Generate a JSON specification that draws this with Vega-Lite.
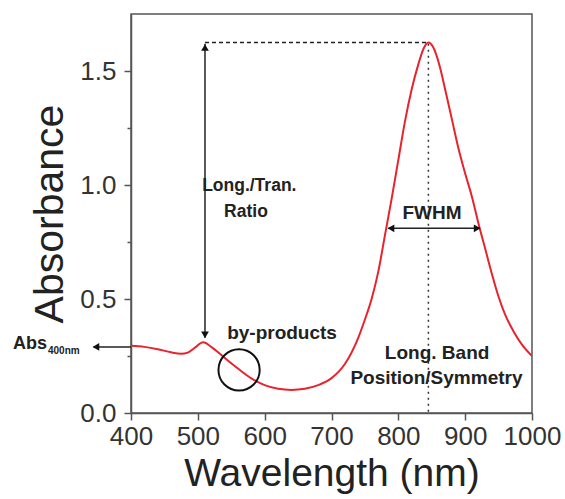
{
  "$schema": "https://vega.github.io/schema/vega-lite/v6.json",
  "width": 401,
  "height": 399,
  "autosize": "none",
  "padding": {"left": 131, "top": 14, "right": 33, "bottom": 86},
  "background": "white",
  "config": {
    "view": {"stroke": "#555", "strokeWidth": 1.5},
    "font": "Liberation Sans"
  },
  "datasets": {
    "curve": [
      {"nm": 400, "abs": 0.295}, {"nm": 420, "abs": 0.29}, {"nm": 440, "abs": 0.28},
      {"nm": 460, "abs": 0.266}, {"nm": 475, "abs": 0.26}, {"nm": 485, "abs": 0.265},
      {"nm": 495, "abs": 0.285}, {"nm": 508, "abs": 0.31}, {"nm": 520, "abs": 0.29},
      {"nm": 540, "abs": 0.242}, {"nm": 560, "abs": 0.195}, {"nm": 580, "abs": 0.152},
      {"nm": 600, "abs": 0.122}, {"nm": 620, "abs": 0.106}, {"nm": 640, "abs": 0.101},
      {"nm": 660, "abs": 0.106}, {"nm": 680, "abs": 0.122}, {"nm": 700, "abs": 0.153},
      {"nm": 720, "abs": 0.215}, {"nm": 740, "abs": 0.33}, {"nm": 750, "abs": 0.41},
      {"nm": 760, "abs": 0.5}, {"nm": 770, "abs": 0.62}, {"nm": 780, "abs": 0.78},
      {"nm": 790, "abs": 0.94}, {"nm": 800, "abs": 1.11}, {"nm": 810, "abs": 1.28},
      {"nm": 820, "abs": 1.42}, {"nm": 830, "abs": 1.53}, {"nm": 838, "abs": 1.6},
      {"nm": 845, "abs": 1.625}, {"nm": 852, "abs": 1.605}, {"nm": 862, "abs": 1.52},
      {"nm": 870, "abs": 1.42}, {"nm": 880, "abs": 1.29}, {"nm": 890, "abs": 1.16},
      {"nm": 900, "abs": 1.05}, {"nm": 910, "abs": 0.95}, {"nm": 920, "abs": 0.83},
      {"nm": 930, "abs": 0.72}, {"nm": 940, "abs": 0.61}, {"nm": 950, "abs": 0.51},
      {"nm": 960, "abs": 0.43}, {"nm": 972, "abs": 0.36}, {"nm": 985, "abs": 0.3},
      {"nm": 1000, "abs": 0.25}
    ],
    "solid": [
      {"x1": 510.7, "x2": 510.7, "y1": 1.62, "y2": 0.33},
      {"x1": 344, "x2": 400, "y1": 0.29, "y2": 0.29},
      {"x1": 785, "x2": 922, "y1": 0.81, "y2": 0.81}
    ],
    "dashed": [
      {"x1": 510.7, "x2": 845, "y1": 1.625}
    ],
    "dotted": [
      {"x1": 845, "y1": 1.62, "y2": 0}
    ],
    "heads": [
      {"x": 510.7, "y": 1.603, "dir": "up"},
      {"x": 510.7, "y": 0.343, "dir": "down"},
      {"x": 347.5, "y": 0.29, "dir": "left"},
      {"x": 789, "y": 0.81, "dir": "left"},
      {"x": 918, "y": 0.81, "dir": "right"}
    ],
    "circle": [
      {"x": 561.7, "y": 0.189}
    ],
    "labels_small": [
      {"text": "Long./Tran.", "x": 577, "y": 0.996},
      {"text": "Ratio", "x": 572, "y": 0.882}
    ],
    "labels": [
      {"text": "FWHM", "x": 850.4, "y": 0.877},
      {"text": "by-products", "x": 626, "y": 0.351},
      {"text": "Long. Band", "x": 858, "y": 0.263},
      {"text": "Position/Symmetry", "x": 857, "y": 0.154}
    ],
    "absmain": [
      {"text": "Abs", "x": 274.3, "y": 0.303}
    ],
    "abssub": [
      {"text": "400nm", "x": 275.8, "y": 0.272}
    ]
  },
  "layer": [
    {
      "data": {"name": "curve"},
      "mark": {"type": "line", "color": "#e8232d", "strokeWidth": 2, "interpolate": "monotone", "clip": true},
      "encoding": {
        "x": {
          "field": "nm", "type": "quantitative",
          "scale": {"domain": [400, 1000], "nice": false, "zero": false},
          "axis": {
            "title": "Wavelength (nm)",
            "values": [400, 450, 500, 550, 600, 650, 700, 750, 800, 850, 900, 950, 1000],
            "labelExpr": "datum.value % 100 == 0 ? datum.label : ''",
            "format": "d",
            "grid": false,
            "domainColor": "#555", "domainWidth": 1.5,
            "tickColor": "#555", "tickWidth": 1.5,
            "tickSize": {"condition": {"test": "datum.value % 100 != 0", "value": 4}, "value": 7},
            "labelFont": "Liberation Sans", "labelFontSize": 26, "labelColor": "#333",
            "labelPadding": 3, "labelOverlap": false, "labelFlush": false,
            "titleFont": "Liberation Sans", "titleFontSize": 39, "titleFontWeight": "normal",
            "titleColor": "#222", "titlePadding": 5
          }
        },
        "y": {
          "field": "abs", "type": "quantitative",
          "scale": {"domain": [0, 1.75], "nice": false, "zero": false},
          "axis": {
            "title": "Absorbance",
            "values": [0, 0.25, 0.5, 0.75, 1, 1.25, 1.5],
            "format": ".1f",
            "labelExpr": "(round(datum.value * 4)) % 2 == 0 ? datum.label : ''",
            "grid": false,
            "domainColor": "#555", "domainWidth": 1.5,
            "tickColor": "#555", "tickWidth": 1.5,
            "tickSize": {"condition": {"test": "round(datum.value * 4) % 2 != 0", "value": 4}, "value": 7},
            "labelFont": "Liberation Sans", "labelFontSize": 26, "labelColor": "#333",
            "labelPadding": 8, "labelOverlap": false, "labelFlush": false,
            "titleFont": "Liberation Sans", "titleFontSize": 41, "titleFontWeight": "normal",
            "titleColor": "#222", "titlePadding": 8
          }
        }
      }
    },
    {
      "data": {"name": "solid"},
      "mark": {"type": "rule", "color": "#222", "strokeWidth": 1.5},
      "encoding": {
        "x": {"field": "x1", "type": "quantitative"},
        "x2": {"field": "x2"},
        "y": {"field": "y1", "type": "quantitative"},
        "y2": {"field": "y2"}
      }
    },
    {
      "data": {"name": "dashed"},
      "mark": {"type": "rule", "color": "#222", "strokeWidth": 1.3, "strokeDash": [4, 3]},
      "encoding": {
        "x": {"field": "x1", "type": "quantitative"},
        "x2": {"field": "x2"},
        "y": {"field": "y1", "type": "quantitative"}
      }
    },
    {
      "data": {"name": "dotted"},
      "mark": {"type": "rule", "color": "#333", "strokeWidth": 1.5, "strokeDash": [2, 4]},
      "encoding": {
        "x": {"field": "x1", "type": "quantitative"},
        "y": {"field": "y1", "type": "quantitative"},
        "y2": {"field": "y2"}
      }
    },
    {
      "data": {"name": "heads"},
      "mark": {"type": "point", "filled": true, "color": "#111", "size": 60, "opacity": 1},
      "encoding": {
        "x": {"field": "x", "type": "quantitative"},
        "y": {"field": "y", "type": "quantitative"},
        "shape": {
          "field": "dir", "type": "nominal", "legend": null,
          "scale": {"domain": ["up", "down", "left", "right"], "range": ["triangle-up", "triangle-down", "triangle-left", "triangle-right"]}
        }
      }
    },
    {
      "data": {"name": "circle"},
      "mark": {"type": "point", "shape": "circle", "filled": false, "color": "#111", "strokeWidth": 2, "size": 1700, "opacity": 1},
      "encoding": {
        "x": {"field": "x", "type": "quantitative"},
        "y": {"field": "y", "type": "quantitative"}
      }
    },
    {
      "data": {"name": "labels_small"},
      "mark": {"type": "text", "font": "Liberation Sans", "fontWeight": "bold", "fontSize": 17.5, "color": "#222", "align": "center", "baseline": "middle"},
      "encoding": {
        "x": {"field": "x", "type": "quantitative"},
        "y": {"field": "y", "type": "quantitative"},
        "text": {"field": "text"}
      }
    },
    {
      "data": {"name": "labels"},
      "mark": {"type": "text", "font": "Liberation Sans", "fontWeight": "bold", "fontSize": 19, "color": "#222", "align": "center", "baseline": "middle"},
      "encoding": {
        "x": {"field": "x", "type": "quantitative"},
        "y": {"field": "y", "type": "quantitative"},
        "text": {"field": "text"}
      }
    },
    {
      "data": {"name": "absmain"},
      "mark": {"type": "text", "font": "Liberation Sans", "fontWeight": "bold", "fontSize": 18, "color": "#222", "align": "right", "baseline": "middle"},
      "encoding": {
        "x": {"field": "x", "type": "quantitative"},
        "y": {"field": "y", "type": "quantitative"},
        "text": {"field": "text"}
      }
    },
    {
      "data": {"name": "abssub"},
      "mark": {"type": "text", "font": "Liberation Sans", "fontWeight": "bold", "fontSize": 10, "color": "#222", "align": "left", "baseline": "middle"},
      "encoding": {
        "x": {"field": "x", "type": "quantitative"},
        "y": {"field": "y", "type": "quantitative"},
        "text": {"field": "text"}
      }
    }
  ]
}
